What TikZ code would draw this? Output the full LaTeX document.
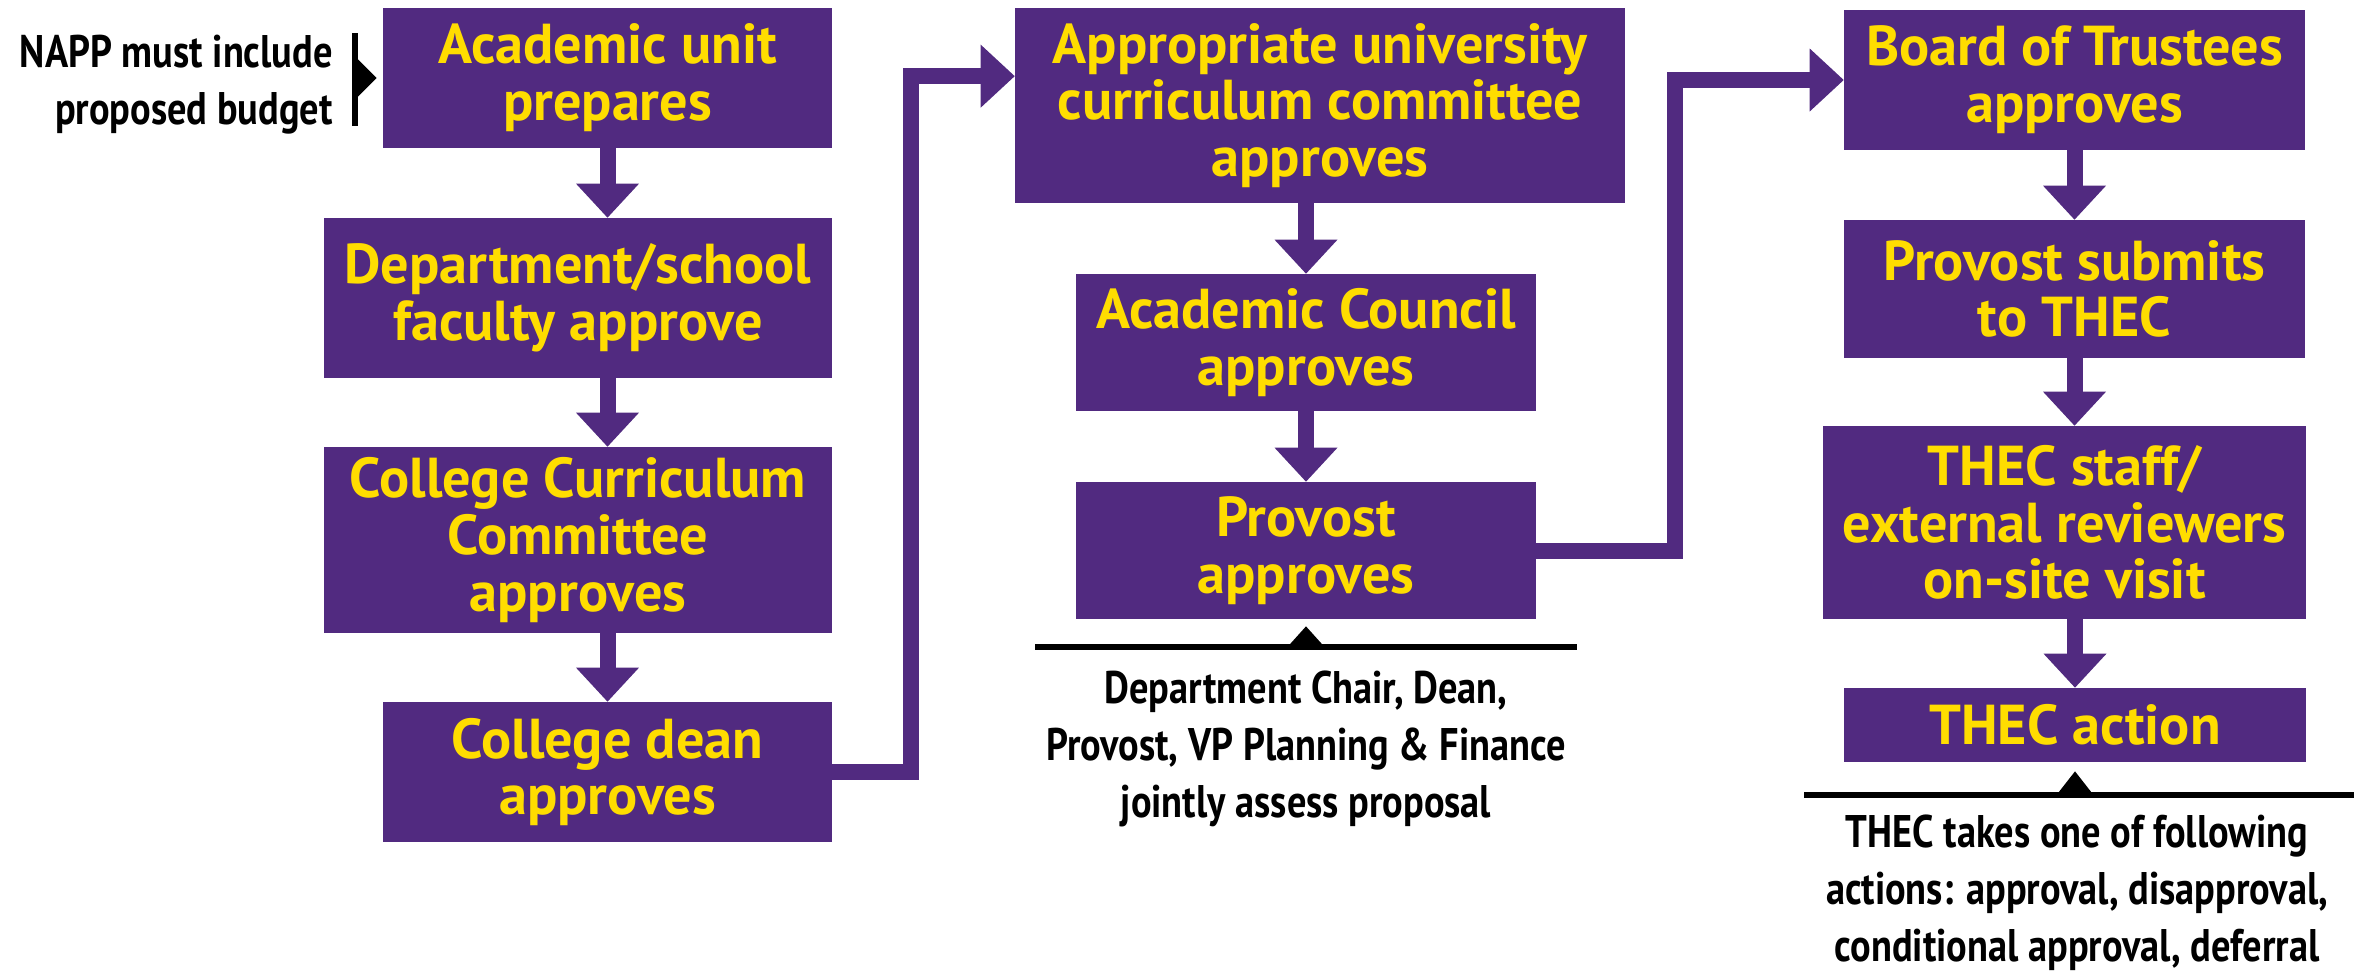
\documentclass[tikz,border=0pt]{standalone}
\usepackage{fontspec}
\setmainfont{PT Sans}[FakeStretch=0.84]
\newfontfamily\stagefont{PT Sans}
\usetikzlibrary{positioning, arrows.meta, calc}

\definecolor{unipurple}{RGB}{81,42,128}
\definecolor{unigold}{RGB}{255,221,0}

\begin{document}
\begin{tikzpicture}[x=0.02cm, y=-0.02cm, font=\bfseries,
  stage/.style={rectangle, fill=unipurple, text=unigold, align=center, inner sep=0pt,
    font=\stagefont\fontsize{32}{32.3}\selectfont\bfseries},
  flow/.style={draw=unipurple, line width=0.32cm,
    -{Triangle[width=1.26cm, length=0.68cm, line width=0pt]}},
  remark/.style={align=center, inner sep=0pt, font=\fontsize{26}{32.5}\selectfont\bfseries},
  rule/.style={line width=0.12cm}]
\useasboundingbox (0,0) rectangle (2354,975);

% first column
\node[stage, minimum width=8.98cm, minimum height=2.8cm] (acad) at (607.5,78) {Academic unit\\prepares};
\node[stage, minimum width=10.16cm, minimum height=3.2cm] (dept) at (578,298) {Department/school\\faculty approve};
\node[stage, minimum width=10.16cm, minimum height=3.72cm] (ccc) at (578,540) {College Curriculum\\Committee\\approves};
\node[stage, minimum width=8.98cm, minimum height=2.8cm] (dean) at (607.5,772) {College dean\\approves};

\node[remark, align=right, anchor=east] (napp) at (333,85) {NAPP must include\\proposed budget};
\draw[rule] ($(acad.west)+(-28,-45)$) -- ($(acad.west)+(-28,48)$);
\fill ($(acad.west)+(-26,-20)$) -- ($(acad.west)+(-6,0)$) -- ($(acad.west)+(-26,20)$) -- cycle;

\draw[flow] (acad) -- (acad |- dept.north);
\draw[flow] (dept.south -| acad) -- (acad |- ccc.north);
\draw[flow] (ccc.south -| acad) -- (dean);

% second column
\node[stage, minimum width=12.2cm, minimum height=3.9cm] (approp) at (1320,105.5) {Appropriate university\\curriculum committee\\approves};
\node[stage, minimum width=9.2cm, minimum height=2.74cm] (council) at (1306,342.5) {Academic Council\\approves};
\node[stage, minimum width=9.2cm, minimum height=2.74cm] (provost) at (1306,550.5) {Provost\\approves};

\draw[flow] (council |- approp.south) -- (council);
\draw[flow] (council) -- (provost);

\draw[rule] ($(provost.south)+(-271,28)$) -- ($(provost.south)+(271,28)$);
\fill ($(provost.south)+(-18,27)$) -- ($(provost.south)+(0,7)$) -- ($(provost.south)+(18,27)$) -- cycle;
\node[remark] (assess) at (1306,749) {Department Chair, Dean,\\Provost, VP Planning \& Finance\\jointly assess proposal};

\draw[flow] (dean.east) -| ($(dean.east)!0.43!(approp.west)$) |- ($(approp.north west)!0.35!(approp.south west)$);

% third column
\node[stage, minimum width=9.22cm, minimum height=2.8cm] (board) at (2074.5,80) {Board of Trustees\\approves};
\node[stage, minimum width=9.22cm, minimum height=2.76cm] (submit) at (2074.5,289) {Provost submits\\to THEC};
\node[stage, minimum width=9.66cm, minimum height=3.86cm] (visit) at (2064.5,522.5) {THEC staff/\\external reviewers\\on-site visit};
\node[stage, minimum width=9.24cm, minimum height=1.48cm] (action) at (2075,725) {THEC action};

\draw[flow] (board) -- (submit);
\draw[flow] (submit) -- (submit |- visit.north);
\draw[flow] (visit.south -| action) -- (action);

\draw[rule] ($(action.south)+(-271,33)$) -- ($(action.south)+(279,33)$);
\fill ($(action.south)+(-18,32)$) -- ($(action.south)+(0,9)$) -- ($(action.south)+(18,32)$) -- cycle;
\node[remark] (verdict) at (2077,893) {THEC takes one of following\\actions: approval, disapproval,\\conditional approval, deferral};

\draw[flow] (provost.east) -| ($(provost.east)!0.45!(board.west)$) |- (board.west);
\end{tikzpicture}
\end{document}
